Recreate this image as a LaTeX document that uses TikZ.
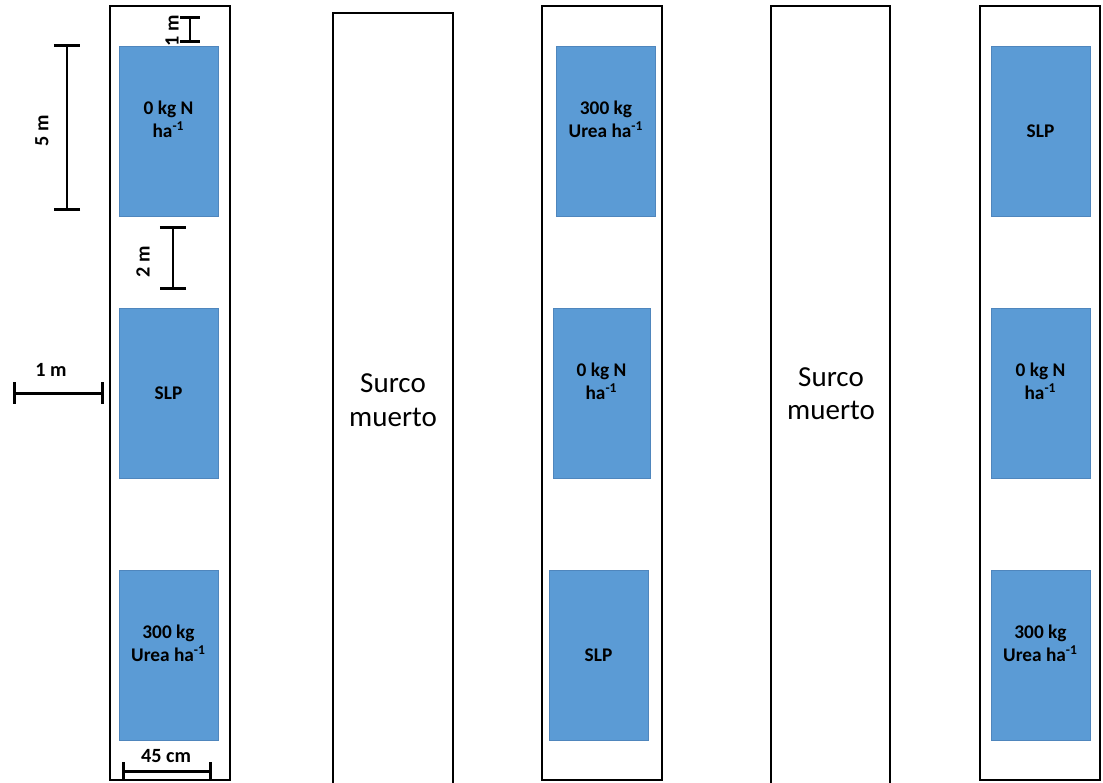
\documentclass[tikz,border=0pt]{standalone}
\usepackage{fontspec}
\setmainfont{Carlito}
\usepackage{xcolor}
\usepackage{tikz}
\usetikzlibrary{positioning,arrows.meta}

\definecolor{plotblue}{HTML}{5B9BD5}
\definecolor{plotedge}{HTML}{4F86BD}

\begin{document}
\begin{tikzpicture}[x=0.02cm, y=-0.02cm,
    row/.style={draw=black, line width=1pt},
    plot/.style={fill=plotblue, draw=plotedge, line width=0.5pt, inner sep=0pt,
        minimum width=1.98cm, minimum height=3.4cm, align=center,
        font=\bfseries\fontsize{11}{13}\selectfont},
    dimbar/.style={line width=1.7pt},
    dimlabel/.style={font=\bfseries\fontsize{11.5}{13}\selectfont, inner sep=1pt},
    dead/.style={align=center, font=\fontsize{16.5}{19}\selectfont}]
    \useasboundingbox (0,0) rectangle (1103,782);

    % rows
    \draw[row] (110,6) rectangle (230,780);
    \draw[row] (333,13) rectangle (453,785);
    \draw[row] (542,6) rectangle (662,780);
    \draw[row] (771,6) rectangle (890,785);
    \draw[row] (980,6) rectangle (1100,780);

    % label under the first plot
    \node[dimlabel, rotate=90] (l1) at (172,31) {1 m};

    % plots, row 1
    \node[plot] (p11) at (168.5,131) {0 kg N\\ha\textsuperscript{-1}\\~};
    \node[plot] (p12) at (168.5,393) {SLP};
    \node[plot] (p13) at (168.5,655) {300 kg\\Urea ha\textsuperscript{-1}\\~};

    % plots, row 3
    \node[plot] (p31) at (606,131) {300 kg\\Urea ha\textsuperscript{-1}\\~};
    \node[plot, minimum width=1.94cm] (p32) at (601.5,393) {0 kg N\\ha\textsuperscript{-1}\\~};
    \node[plot] (p33) at (598.5,655) {SLP};

    % plots, row 5
    \node[plot] (p51) at (1040.5,131) {SLP};
    \node[plot] (p52) at (1040.5,393) {0 kg N\\ha\textsuperscript{-1}\\~};
    \node[plot] (p53) at (1040.5,655) {300 kg\\Urea ha\textsuperscript{-1}\\~};

    % dead furrows
    \node[dead] (s1) at (393,400) {Surco\\muerto};
    \node[dead] (s2) at (831,394) {Surco\\muerto};

    % scale bars
    \coordinate (a5) at (67,44);
    \coordinate (b5) at (67,211);
    \draw[dimbar, {Bar[width=15pt]}-{Bar[width=15pt]}] (a5) -- (b5);
    \node[dimlabel, rotate=90] (l5) at (42,131) {5 m};

    \coordinate (a1) at (190,16);
    \coordinate (b1) at (190,43);
    \draw[dimbar, {Bar[width=11pt]}-{Bar[width=11pt]}] (a1) -- (b1);

    \coordinate (a2) at (173,226);
    \coordinate (b2) at (173,290);
    \draw[dimbar, {Bar[width=15pt]}-{Bar[width=15pt]}] (a2) -- (b2);
    \node[dimlabel, rotate=90] (l2) at (143,262) {2 m};

    \coordinate (ah) at (13,393);
    \coordinate (bh) at (104,393);
    \draw[dimbar, {Bar[width=12pt]}-{Bar[width=12pt]}] (ah) -- (bh);
    \node[dimlabel] (lh) at (51,370) {1 m};

    \coordinate (aw) at (122,771);
    \coordinate (bw) at (212,771);
    \draw[dimbar, {Bar[width=10pt]}-{Bar[width=10pt]}] (aw) -- (bw);
    \node[dimlabel] (lw) at (166,756) {45 cm};
\end{tikzpicture}
\end{document}
